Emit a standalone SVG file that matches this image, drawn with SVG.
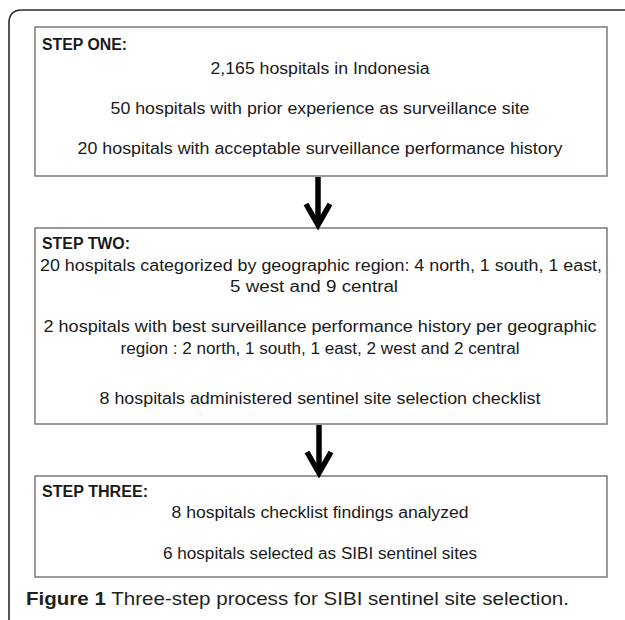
<svg xmlns="http://www.w3.org/2000/svg" width="625" height="620" viewBox="0 0 625 620">
  <style>
    .frame { fill: none; stroke: #2a2a2a; stroke-width: 1.6; }
    .box { fill: #ffffff; stroke: #7a7a7a; stroke-width: 1.5; }
    .t { font-family: "Liberation Sans", Arial, sans-serif; font-size: 16px; fill: #1a1a1a; }
    .c { text-anchor: middle; }
    .h { font-weight: bold; }
    .cap { font-family: "Liberation Sans", Arial, sans-serif; font-size: 18.5px; fill: #231f20; }
    .arrow { fill: none; stroke: #000000; stroke-width: 5.5; stroke-linecap: butt; stroke-linejoin: miter; }
  </style>
  <rect x="0" y="0" width="625" height="620" fill="#ffffff"/>
  <path class="frame" d="M9,620 V23 Q9,10 22,10 H625"/>

  <g id="step-one">
    <rect class="box" x="35" y="27" width="572" height="149"/>
    <text class="t h" x="42" y="50" textLength="85" lengthAdjust="spacingAndGlyphs">STEP ONE:</text>
    <text class="t c" x="320" y="74" textLength="219" lengthAdjust="spacingAndGlyphs">2,165 hospitals in Indonesia</text>
    <text class="t c" x="320" y="114" textLength="419" lengthAdjust="spacingAndGlyphs">50 hospitals with prior experience as surveillance site</text>
    <text class="t c" x="320" y="154" textLength="485" lengthAdjust="spacingAndGlyphs">20 hospitals with acceptable surveillance performance history</text>
  </g>

  <g id="step-two">
    <rect class="box" x="35" y="228" width="572" height="196"/>
    <text class="t h" x="42" y="249" textLength="88" lengthAdjust="spacingAndGlyphs">STEP TWO:</text>
    <text class="t c" x="321" y="271" textLength="562" lengthAdjust="spacingAndGlyphs">20 hospitals categorized by geographic region: 4 north, 1 south, 1 east,</text>
    <text class="t c" x="314" y="292" textLength="168" lengthAdjust="spacingAndGlyphs">5 west and 9 central</text>
    <text class="t c" x="320" y="332" textLength="553" lengthAdjust="spacingAndGlyphs">2 hospitals with best surveillance performance history per geographic</text>
    <text class="t c" x="320" y="354" textLength="399" lengthAdjust="spacingAndGlyphs">region : 2 north, 1 south, 1 east, 2 west and 2 central</text>
    <text class="t c" x="320" y="404" textLength="441" lengthAdjust="spacingAndGlyphs">8 hospitals administered sentinel site selection checklist</text>
  </g>

  <g id="step-three">
    <rect class="box" x="35" y="476" width="572" height="101"/>
    <text class="t h" x="42" y="497" textLength="106" lengthAdjust="spacingAndGlyphs">STEP THREE:</text>
    <text class="t c" x="320" y="518" textLength="297" lengthAdjust="spacingAndGlyphs">8 hospitals checklist findings analyzed</text>
    <text class="t c" x="320" y="559" textLength="314" lengthAdjust="spacingAndGlyphs">6 hospitals selected as SIBI sentinel sites</text>
  </g>

  <g id="connectors">
    <path class="arrow" d="M318,177 V223"/>
    <path class="arrow" d="M306,204 L318,225 L330,204"/>
    <path class="arrow" d="M319,425 V471"/>
    <path class="arrow" d="M307,452 L319,473 L331,452"/>
  </g>

  <text class="cap" x="26" y="605" textLength="543" lengthAdjust="spacingAndGlyphs"><tspan font-weight="bold">Figure 1</tspan> Three-step process for SIBI sentinel site selection.</text>
</svg>
